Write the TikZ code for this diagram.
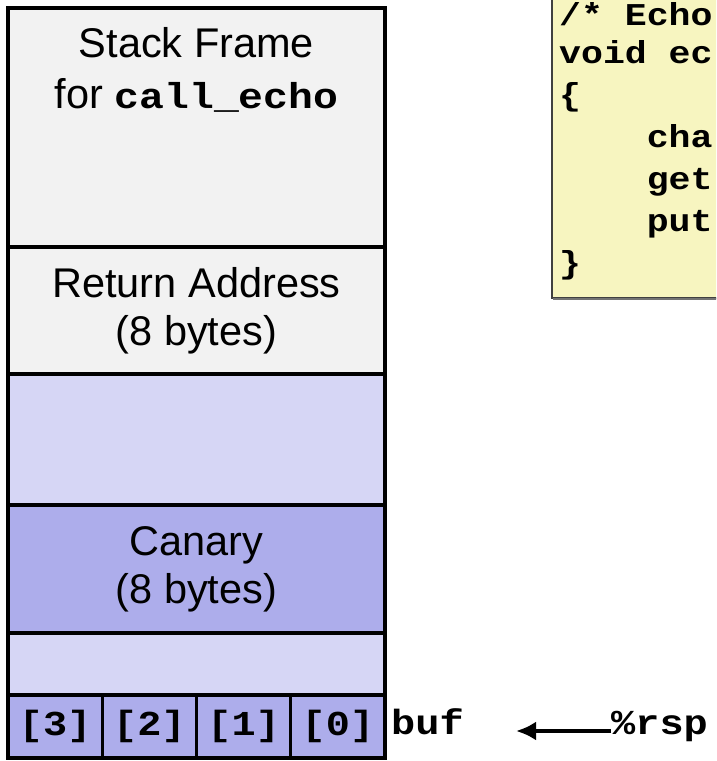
\documentclass[tikz,border=0pt]{standalone}
\usepackage{fontspec}
\setmainfont{Liberation Sans}
\newfontfamily\codefont{Liberation Mono}[FakeStretch=1.15]
\usetikzlibrary{arrows.meta,positioning}
\definecolor{framegray}{HTML}{F2F2F2}
\definecolor{padblue}{HTML}{D6D6F5}
\definecolor{canaryblue}{HTML}{ADADEB}
\definecolor{codeyellow}{HTML}{F7F5C0}
\tikzset{
  slot/.style={draw=black, line width=3.3pt, inner sep=0pt, outer sep=0pt,
    minimum width=377pt, font=\fontsize{41.5}{48}\selectfont, align=center},
  cell/.style={draw=black, line width=3.3pt, fill=canaryblue, inner sep=0pt, outer sep=0pt,
    minimum width=94.25pt, minimum height=63pt, font=\fontsize{35}{35}\selectfont\codefont\bfseries},
  mono/.style={font=\fontsize{35}{35}\selectfont\codefont\bfseries, inner sep=0pt, anchor=base west},
  code/.style={font=\fontsize{31.75}{42}\selectfont\codefont\bfseries, inner sep=0pt, anchor=base west}
}

\begin{document}
\begin{tikzpicture}[x=1pt,y=1pt]
    \useasboundingbox (0,0) rectangle (716,761);
    \clip (0,0) rectangle (716,761);
    \pgfmathsetmacro{\cellW}{94.25}  % width of one byte of buf
    \pgfmathsetmacro{\codeX}{559}  % left edge of the code text
    \pgfmathsetmacro{\indentX}{\codeX+4*21.9}  % four characters in
    % Stack, from the top down
    \node[slot, fill=framegray, minimum height=239pt, anchor=north west] (frame) at (8,753) {};
    \node[slot, fill=framegray, minimum height=127pt, below=0pt of frame] (ret) {Return Address\\(8 bytes)};
    \node[slot, fill=padblue, minimum height=131pt, below=0pt of ret] (padtop) {};
    \node[slot, fill=canaryblue, minimum height=128pt, below=0pt of padtop] (canary) {Canary\\(8 bytes)};
    \node[slot, fill=padblue, minimum height=62pt, below=0pt of canary] (padlow) {};
    \node[font=\fontsize{41.5}{51}\selectfont, align=center, inner sep=0pt, below=19pt of frame.north] (frametext)
        {Stack Frame\\for {\fontsize{36}{51}\selectfont\codefont\bfseries call\_echo}};
    % the four bytes of buf
    \foreach \b [count=\k from 0] in {3,2,1,0}
        \node[cell, anchor=north west] (b\b) at (8+\k*\cellW,66) {[\b]};
    \node[mono] (buf) at (391,26) {buf};
    \node[mono] (rsp) at (611,26) {\%rsp};
    \coordinate (bufptr) at (516,30);
    \draw[-{Latex[length=20pt,width=19pt]}, line width=4pt] (rsp.west |- bufptr) -- (bufptr);
    % Code of echo, cut off at the right
    \draw[fill=codeyellow, draw=black!75, line width=1.3pt] (552,463) rectangle (730,770);
    \draw[line width=2pt, black!55] (553,462) -- (730,462);
    \node[code] (c1) at (\codeX,735) {/* Echo};
    \node[code] (c2) at (\codeX,697) {void ec};
    \node[code] (c3) at (\codeX,655) {\{};
    \node[code] (c4) at (\indentX,613) {cha};
    \node[code] (c5) at (\indentX,571) {get};
    \node[code] (c6) at (\indentX,529) {put};
    \node[code] (c7) at (\codeX,487) {\}};
\end{tikzpicture}
\end{document}
